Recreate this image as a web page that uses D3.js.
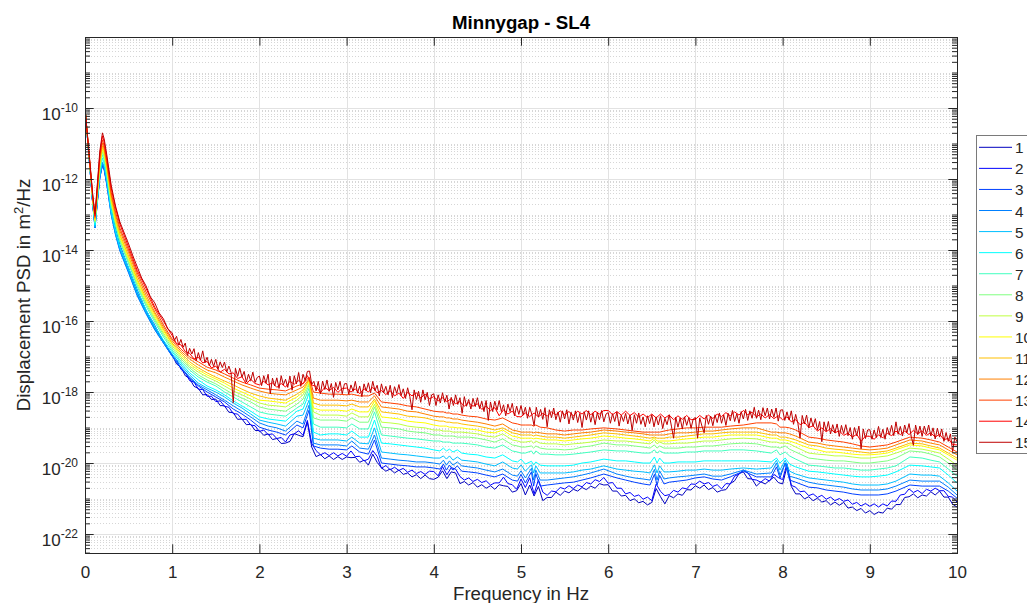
<!DOCTYPE html>
<html><head><meta charset="utf-8">
<script src="https://cdn.jsdelivr.net/npm/d3@7"></script>
<style>
body{margin:0;background:#fff;}
svg{display:block;font-family:"Liberation Sans",Arial,Helvetica,sans-serif;}
</style></head><body>
<svg id="chart" width="1027" height="603"></svg>
<script>
// ---------------- DATA ----------------
const chartTitle = "Minnygap - SL4";
const xLabel = "Frequency in Hz";
const yLabelMain = "Displacement PSD in m";
const yLabelSup = "2";
const yLabelTail = "/Hz";
const seriesNames = ["1","2","3","4","5","6","7","8","9","10","11","12","13","14","15"];
const seriesColors = ["#0000bf","#0000ff","#0040ff","#0080ff","#00bfff","#00ffff","#40ffbf","#80ff80","#bfff40","#ffff00","#ffbf00","#ff8000","#ff4000","#ff0000","#bf0000"];
const xLimits = [0, 10];
const yLimits = [2.92e-23, 1e-8];
const xTicks = [0,1,2,3,4,5,6,7,8,9,10];
const yTickExponents = [-22,-20,-18,-16,-14,-12,-10];

// frequency sampling (Hz)
const freqsLow = [0,0.03,0.06,0.09,0.115,0.14,0.17,0.2,0.22,0.25,0.3,0.35,0.4];
// shared by series 3-13
const freqs = freqsLow.concat([
0.5,0.6,0.7,0.8,0.9,1.0,1.1,1.2,1.3,1.4,1.5,1.6,1.7,1.8,1.9,2.0,
2.1,2.2,2.3,2.43,2.5,2.57,2.62,2.7,2.8,2.9,3.0,
3.06,3.15,3.25,3.32,3.4,3.5,3.6,3.7,3.8,3.9,4.0,
4.07,4.11,4.145,4.18,4.22,4.27,4.32,4.4,4.5,4.6,4.7,4.79,4.9,4.96,5.0,
5.05,5.12,5.145,5.17,5.22,5.3,5.4,5.5,5.6,5.7,5.8,5.95,6.1,
6.2,6.3,6.4,6.48,6.53,6.56,6.59,6.64,6.7,6.8,6.9,7.0,7.1,7.2,
7.3,7.4,7.55,7.7,7.87,7.93,7.97,8.03,8.08,8.15,8.3,
8.4,8.5,8.6,8.7,8.8,8.9,9.0,9.1,9.2,9.3,9.46,9.6,9.7,9.8,9.9,10.0]);
// series 1, 2, 14: 0.05 Hz sampling above 1 Hz
const freqsMed = freqsLow.concat([0.5,0.6,0.7,0.8,0.9], d3.range(181).map(k => +(1 + k * 0.05).toFixed(2)));
// series 15: 0.025 Hz sampling above 1 Hz
const freqs15 = freqsLow.concat([0.5,0.55,0.6,0.65,0.7,0.75,0.8,0.85,0.9,0.95], d3.range(361).map(k => +(1 + k * 0.025).toFixed(3)));

// log10 of displacement PSD (m^2/Hz), one array per series
const log10PSD_1 = [
-10.00,-10.90,-11.80,-12.73,-13.32,-12.65,-11.94,-11.61,-11.72,-12.11,-12.85,-13.44,-13.89,
-14.54,-15.20,-15.70,-16.19,-16.57,
-16.96,-17.21,-17.30,-17.54,-17.62,-17.84,-17.90,-18.08,-18.07,-18.21,-18.20,-18.38,-18.39,-18.57,-18.58,-18.77,-18.76,-18.92,-18.91,-19.08,
-19.09,-19.22,-19.18,-19.34,-19.31,-19.45,-19.44,-19.39,-19.17,-19.22,-19.26,-18.85,-19.55,-19.82,-19.76,-19.88,-19.80,-19.90,-19.82,-19.90,
-19.83,-19.85,-19.84,-19.98,-19.92,-20.06,-19.75,-19.98,-20.13,-20.23,-20.17,-20.28,-20.20,-20.32,-20.28,-20.39,-20.33,-20.44,-20.34,-20.44,
-20.46,-20.40,-20.22,-20.44,-20.25,-20.28,-20.58,-20.52,-20.62,-20.55,-20.68,-20.61,-20.71,-20.64,-20.74,-20.61,-20.64,-20.66,-20.82,-20.78,
-20.58,-20.90,-20.62,-20.93,-20.66,-21.06,-20.97,-20.97,-20.82,-20.91,-20.79,-20.84,-20.74,-20.79,-20.69,-20.75,-20.65,-20.71,-20.58,-20.62,
-20.61,-20.79,-20.79,-20.93,-20.91,-21.06,-21.01,-21.12,-21.08,-21.18,-21.11,-20.72,-20.95,-21.15,-20.92,-20.98,-20.87,-20.91,-20.75,-20.76,
-20.64,-20.71,-20.62,-20.75,-20.69,-20.82,-20.77,-20.75,-20.58,-20.50,-20.30,-20.25,-20.44,-20.45,-20.65,-20.53,-20.59,-20.49,-20.40,-20.55,
-20.59,-20.10,-20.66,-20.87,-20.87,-21.01,-20.95,-21.06,-20.99,-21.10,-21.06,-21.18,-21.10,-21.19,-21.11,-21.27,-21.24,-21.34,-21.28,-21.41,
-21.34,-21.45,-21.38,-21.41,-21.27,-21.30,-21.17,-21.17,-20.97,-20.95,-20.87,-20.98,-20.90,-20.93,-20.81,-20.90,-20.79,-20.96,-20.96,-21.16,
-21.24];
const log10PSD_2 = [
-10.00,-10.90,-11.80,-12.73,-13.32,-12.65,-11.92,-11.55,-11.69,-12.08,-12.82,-13.41,-13.86,
-14.51,-15.13,-15.70,-16.12,-16.58,
-16.99,-17.09,-17.36,-17.45,-17.68,-17.72,-17.92,-17.93,-18.12,-18.12,-18.27,-18.25,-18.40,-18.43,-18.61,-18.62,-18.77,-18.77,-18.93,-18.95,
-19.11,-19.07,-19.20,-19.18,-19.31,-19.28,-19.41,-19.21,-19.18,-19.09,-19.22,-18.80,-19.45,-19.65,-19.77,-19.71,-19.79,-19.71,-19.80,-19.73,
-19.81,-19.66,-19.82,-19.81,-19.94,-19.89,-19.65,-19.81,-20.15,-20.07,-20.19,-20.12,-20.21,-20.15,-20.26,-20.20,-20.30,-20.24,-20.32,-20.23,
-20.24,-20.36,-20.10,-20.33,-20.13,-20.17,-20.38,-20.48,-20.42,-20.52,-20.46,-20.55,-20.50,-20.62,-20.56,-20.56,-20.40,-20.58,-20.61,-20.74,
-20.45,-20.69,-20.42,-20.87,-20.47,-20.82,-20.91,-20.79,-20.81,-20.69,-20.73,-20.64,-20.72,-20.62,-20.67,-20.55,-20.59,-20.47,-20.52,-20.41,
-20.57,-20.55,-20.71,-20.71,-20.87,-20.83,-20.94,-20.90,-21.02,-20.96,-21.06,-20.59,-20.80,-20.92,-20.89,-20.77,-20.82,-20.70,-20.73,-20.59,
-20.60,-20.51,-20.59,-20.55,-20.66,-20.61,-20.73,-20.58,-20.59,-20.37,-20.31,-20.20,-20.27,-20.46,-20.48,-20.54,-20.44,-20.51,-20.32,-20.41,
-20.47,-20.02,-20.63,-20.68,-20.81,-20.79,-20.92,-20.87,-20.97,-20.91,-21.02,-20.96,-21.06,-21.00,-21.08,-21.04,-21.16,-21.11,-21.21,-21.14,
-21.22,-21.15,-21.24,-21.15,-21.21,-21.07,-21.08,-20.90,-20.88,-20.73,-20.83,-20.77,-20.86,-20.74,-20.79,-20.71,-20.78,-20.78,-20.94,-20.96,
-21.10];
const log10PSD_3 = [
-10.00,-10.90,-11.80,-12.76,-13.38,-12.70,-11.97,-11.61,-11.75,-12.17,-12.99,-13.55,-14.00,
-14.62,-15.27,-15.77,-16.23,-16.62,-16.99,-17.32,-17.61,-17.83,-18.00,-18.14,-18.28,-18.48,-18.62,-18.79,-18.99,
-19.07,-19.13,-19.21,-18.93,-19.01,-18.51,-19.52,-19.58,-19.61,-19.61,-19.63,
-19.52,-19.69,-19.75,-19.35,-20.00,-20.03,-20.06,-20.08,-20.11,-20.11,-20.14,
-20.17,-20.03,-20.20,-20.06,-20.20,-20.08,-20.23,-20.25,-20.28,-20.34,-20.39,-20.31,-20.48,-20.51,-20.32,
-20.56,-20.25,-20.65,-20.30,-20.65,-20.62,-20.59,-20.56,-20.54,-20.48,-20.42,-20.31,-20.42,
-20.48,-20.54,-20.59,-20.62,-20.32,-20.62,-20.35,-20.59,-20.54,-20.51,-20.48,-20.42,-20.39,-20.45,
-20.48,-20.39,-20.23,-20.39,-20.39,-20.11,-20.42,-20.00,-20.48,-20.54,-20.68,
-20.70,-20.76,-20.79,-20.82,-20.87,-20.90,-20.90,-20.90,-20.87,-20.79,-20.62,-20.65,-20.65,-20.65,-20.79,-20.99];
const log10PSD_4 = [
-10.00,-10.90,-11.80,-12.76,-13.38,-12.70,-11.97,-11.58,-11.72,-12.14,-13.01,-13.58,-14.03,
-14.65,-15.30,-15.80,-16.25,-16.62,-16.99,-17.30,-17.58,-17.80,-17.94,-18.08,-18.23,-18.39,-18.54,-18.70,-18.87,
-18.96,-19.01,-19.10,-18.82,-18.90,-18.37,-19.44,-19.49,-19.49,-19.49,-19.52,
-19.38,-19.58,-19.61,-19.21,-19.86,-19.89,-19.92,-19.94,-19.97,-19.97,-20.00,
-20.03,-19.92,-20.06,-19.94,-20.06,-19.97,-20.08,-20.11,-20.14,-20.20,-20.25,-20.17,-20.34,-20.37,-20.22,
-20.42,-20.15,-20.48,-20.20,-20.48,-20.48,-20.45,-20.42,-20.39,-20.34,-20.28,-20.17,-20.31,
-20.37,-20.42,-20.45,-20.48,-20.18,-20.48,-20.22,-20.45,-20.42,-20.39,-20.37,-20.34,-20.31,-20.37,
-20.37,-20.31,-20.20,-20.31,-20.28,-20.00,-20.34,-20.00,-20.37,-20.42,-20.54,
-20.59,-20.62,-20.65,-20.68,-20.73,-20.76,-20.76,-20.76,-20.73,-20.65,-20.48,-20.51,-20.51,-20.51,-20.68,-20.90];
const log10PSD_5 = [
-10.00,-10.90,-11.80,-12.73,-13.35,-12.68,-11.92,-11.52,-11.66,-12.08,-12.96,-13.52,-13.97,
-14.59,-15.24,-15.75,-16.20,-16.59,-16.93,-17.24,-17.52,-17.75,-17.89,-18.00,-18.14,-18.31,-18.45,-18.62,-18.79,
-18.85,-18.90,-18.96,-18.68,-18.65,-18.23,-19.30,-19.35,-19.35,-19.35,-19.38,
-19.27,-19.44,-19.46,-19.01,-19.69,-19.72,-19.75,-19.77,-19.80,-19.83,-19.86,
-19.86,-19.80,-19.89,-19.80,-19.92,-19.83,-19.92,-19.94,-19.97,-20.03,-20.08,-19.97,-20.14,-20.17,-20.05,
-20.23,-20.05,-20.28,-20.08,-20.28,-20.28,-20.28,-20.28,-20.25,-20.20,-20.17,-20.08,-20.17,
-20.20,-20.23,-20.25,-20.28,-20.05,-20.28,-20.08,-20.25,-20.25,-20.23,-20.20,-20.20,-20.17,-20.20,
-20.20,-20.17,-20.14,-20.17,-20.14,-19.92,-20.20,-19.92,-20.23,-20.31,-20.42,
-20.45,-20.48,-20.51,-20.54,-20.59,-20.62,-20.62,-20.62,-20.59,-20.51,-20.31,-20.34,-20.34,-20.37,-20.56,-20.79];
const log10PSD_6 = [
-10.00,-10.90,-11.77,-12.70,-13.30,-12.62,-11.83,-11.41,-11.55,-11.97,-12.87,-13.44,-13.89,
-14.51,-15.15,-15.69,-16.14,-16.54,-16.87,-17.18,-17.46,-17.66,-17.83,-17.94,-18.08,-18.25,-18.39,-18.54,-18.70,
-18.76,-18.79,-18.82,-18.54,-18.48,-18.03,-19.13,-19.21,-19.18,-19.18,-19.21,
-19.10,-19.27,-19.27,-18.79,-19.44,-19.46,-19.49,-19.52,-19.55,-19.58,-19.63,
-19.66,-19.58,-19.66,-19.61,-19.69,-19.63,-19.72,-19.75,-19.77,-19.83,-19.86,-19.77,-19.94,-19.97,-19.89,
-20.03,-19.95,-20.06,-19.97,-20.06,-20.08,-20.08,-20.08,-20.06,-20.00,-19.97,-19.89,-19.94,
-19.94,-19.97,-20.00,-20.00,-19.83,-20.00,-19.86,-20.00,-20.00,-19.97,-19.97,-19.97,-19.94,-19.94,
-19.94,-19.94,-19.94,-19.94,-19.97,-19.86,-20.00,-19.86,-20.03,-20.11,-20.23,
-20.25,-20.28,-20.31,-20.34,-20.37,-20.39,-20.39,-20.37,-20.34,-20.25,-20.06,-20.08,-20.11,-20.14,-20.34,-20.56];
const log10PSD_7 = [
-10.00,-10.87,-11.77,-12.68,-13.24,-12.56,-11.75,-11.32,-11.46,-11.89,-12.76,-13.32,-13.77,
-14.39,-15.04,-15.58,-16.03,-16.45,-16.82,-17.13,-17.38,-17.58,-17.72,-17.83,-18.00,-18.14,-18.28,-18.42,-18.56,
-18.62,-18.65,-18.68,-18.45,-18.34,-17.89,-18.90,-18.99,-18.99,-18.99,-19.01,
-18.90,-19.04,-19.04,-18.56,-19.21,-19.24,-19.27,-19.30,-19.32,-19.35,-19.38,
-19.38,-19.41,-19.41,-19.41,-19.44,-19.44,-19.44,-19.46,-19.49,-19.55,-19.58,-19.49,-19.66,-19.69,-19.72,
-19.72,-19.66,-19.75,-19.66,-19.75,-19.75,-19.77,-19.77,-19.75,-19.72,-19.69,-19.63,-19.66,
-19.66,-19.69,-19.72,-19.72,-19.63,-19.72,-19.66,-19.72,-19.72,-19.72,-19.69,-19.69,-19.66,-19.66,
-19.66,-19.63,-19.63,-19.66,-19.72,-19.63,-19.77,-19.69,-19.80,-19.89,-20.06,
-20.08,-20.11,-20.14,-20.14,-20.17,-20.20,-20.20,-20.17,-20.14,-20.08,-19.83,-19.86,-19.92,-19.97,-20.17,-20.37];
const log10PSD_8 = [
-10.00,-10.87,-11.75,-12.65,-13.21,-12.54,-11.69,-11.24,-11.38,-11.80,-12.70,-13.27,-13.72,
-14.34,-14.99,-15.52,-15.97,-16.39,-16.76,-17.07,-17.32,-17.52,-17.66,-17.77,-17.92,-18.06,-18.17,-18.28,-18.42,
-18.48,-18.51,-18.54,-18.34,-18.20,-17.80,-18.73,-18.79,-18.79,-18.79,-18.82,
-18.73,-18.85,-18.85,-18.42,-18.99,-19.01,-19.04,-19.10,-19.13,-19.15,-19.21,
-19.21,-19.24,-19.24,-19.24,-19.24,-19.27,-19.27,-19.27,-19.30,-19.35,-19.41,-19.32,-19.49,-19.52,-19.55,
-19.55,-19.52,-19.58,-19.52,-19.58,-19.61,-19.61,-19.63,-19.61,-19.55,-19.52,-19.44,-19.49,
-19.49,-19.52,-19.55,-19.58,-19.49,-19.58,-19.52,-19.58,-19.58,-19.58,-19.55,-19.55,-19.52,-19.52,
-19.49,-19.46,-19.44,-19.46,-19.55,-19.55,-19.58,-19.52,-19.61,-19.69,-19.86,
-19.89,-19.92,-19.94,-19.94,-19.97,-20.00,-20.00,-19.97,-19.94,-19.86,-19.66,-19.69,-19.75,-19.83,-20.00,-20.20];
const log10PSD_9 = [
-10.00,-10.87,-11.75,-12.62,-13.18,-12.48,-11.63,-11.18,-11.32,-11.75,-12.65,-13.21,-13.66,
-14.28,-14.93,-15.46,-15.92,-16.34,-16.70,-17.01,-17.27,-17.44,-17.58,-17.69,-17.83,-17.97,-18.08,-18.20,-18.31,
-18.37,-18.39,-18.42,-18.23,-18.08,-17.75,-18.56,-18.65,-18.65,-18.65,-18.68,
-18.59,-18.70,-18.70,-18.34,-18.85,-18.87,-18.90,-18.96,-18.99,-19.01,-19.07,
-19.07,-19.10,-19.10,-19.10,-19.13,-19.13,-19.13,-19.15,-19.18,-19.24,-19.27,-19.18,-19.35,-19.38,-19.41,
-19.41,-19.38,-19.44,-19.38,-19.44,-19.46,-19.46,-19.49,-19.46,-19.44,-19.41,-19.35,-19.38,
-19.38,-19.41,-19.44,-19.46,-19.35,-19.46,-19.41,-19.46,-19.46,-19.44,-19.44,-19.41,-19.38,-19.38,
-19.35,-19.32,-19.30,-19.32,-19.41,-19.41,-19.44,-19.44,-19.46,-19.55,-19.72,
-19.75,-19.77,-19.80,-19.80,-19.83,-19.86,-19.86,-19.83,-19.80,-19.72,-19.58,-19.61,-19.66,-19.72,-19.89,-20.06];
const log10PSD_10 = [
-10.00,-10.85,-11.72,-12.59,-13.16,-12.45,-11.58,-11.13,-11.27,-11.69,-12.59,-13.16,-13.61,
-14.23,-14.87,-15.41,-15.86,-16.28,-16.65,-16.96,-17.21,-17.38,-17.52,-17.63,-17.75,-17.89,-18.00,-18.11,-18.23,
-18.25,-18.28,-18.31,-18.14,-18.00,-17.69,-18.45,-18.51,-18.51,-18.51,-18.54,
-18.48,-18.56,-18.56,-18.25,-18.70,-18.73,-18.76,-18.82,-18.85,-18.87,-18.93,
-18.96,-18.96,-18.96,-18.99,-18.99,-19.01,-19.01,-19.04,-19.07,-19.13,-19.15,-19.07,-19.24,-19.27,-19.30,
-19.30,-19.30,-19.32,-19.30,-19.32,-19.35,-19.35,-19.38,-19.35,-19.32,-19.30,-19.24,-19.27,
-19.30,-19.32,-19.35,-19.38,-19.30,-19.38,-19.38,-19.38,-19.38,-19.35,-19.32,-19.30,-19.27,-19.27,
-19.24,-19.21,-19.21,-19.21,-19.30,-19.30,-19.35,-19.35,-19.38,-19.44,-19.58,
-19.63,-19.69,-19.69,-19.72,-19.75,-19.77,-19.77,-19.75,-19.72,-19.63,-19.49,-19.52,-19.58,-19.63,-19.77,-19.92];
const log10PSD_11 = [
-10.00,-10.85,-11.72,-12.59,-13.13,-12.39,-11.52,-11.07,-11.21,-11.63,-12.54,-13.10,-13.55,
-14.17,-14.82,-15.35,-15.80,-16.23,-16.62,-16.90,-17.15,-17.32,-17.46,-17.58,-17.69,-17.80,-17.92,-18.03,-18.11,
-18.17,-18.20,-18.23,-18.06,-17.94,-17.66,-18.31,-18.37,-18.37,-18.37,-18.39,
-18.34,-18.42,-18.42,-18.20,-18.56,-18.59,-18.62,-18.68,-18.70,-18.73,-18.79,
-18.82,-18.82,-18.85,-18.85,-18.87,-18.87,-18.90,-18.93,-18.96,-19.01,-19.07,-19.01,-19.15,-19.18,-19.21,
-19.21,-19.21,-19.24,-19.21,-19.24,-19.27,-19.27,-19.30,-19.27,-19.24,-19.21,-19.15,-19.18,
-19.21,-19.24,-19.27,-19.30,-19.27,-19.30,-19.30,-19.30,-19.27,-19.27,-19.24,-19.21,-19.18,-19.18,
-19.15,-19.13,-19.13,-19.13,-19.21,-19.21,-19.27,-19.27,-19.30,-19.35,-19.49,
-19.52,-19.58,-19.61,-19.63,-19.66,-19.69,-19.72,-19.69,-19.66,-19.58,-19.44,-19.46,-19.52,-19.58,-19.72,-19.86];
const log10PSD_12 = [
-10.00,-10.85,-11.69,-12.56,-13.10,-12.37,-11.46,-10.99,-11.15,-11.58,-12.45,-13.01,-13.46,
-14.08,-14.73,-15.27,-15.75,-16.17,-16.56,-16.85,-17.07,-17.24,-17.38,-17.46,-17.58,-17.69,-17.80,-17.89,-17.97,
-18.03,-18.06,-18.08,-17.94,-17.86,-17.63,-18.17,-18.23,-18.23,-18.23,-18.25,
-18.23,-18.28,-18.28,-18.11,-18.42,-18.45,-18.48,-18.54,-18.56,-18.62,-18.68,
-18.70,-18.70,-18.73,-18.73,-18.76,-18.76,-18.79,-18.82,-18.85,-18.90,-18.96,-18.90,-19.07,-19.10,-19.13,
-19.13,-19.13,-19.15,-19.13,-19.15,-19.18,-19.18,-19.21,-19.18,-19.15,-19.13,-19.07,-19.10,
-19.13,-19.15,-19.18,-19.21,-19.21,-19.21,-19.21,-19.21,-19.18,-19.15,-19.15,-19.13,-19.10,-19.10,
-19.07,-19.04,-19.01,-19.01,-19.13,-19.13,-19.15,-19.15,-19.18,-19.24,-19.41,
-19.44,-19.49,-19.52,-19.55,-19.58,-19.61,-19.63,-19.61,-19.58,-19.49,-19.35,-19.38,-19.44,-19.49,-19.63,-19.77];
const log10PSD_13 = [
-10.00,-10.85,-11.69,-12.54,-13.07,-12.31,-11.38,-10.90,-11.07,-11.49,-12.37,-12.93,-13.38,
-14.00,-14.65,-15.18,-15.66,-16.11,-16.51,-16.79,-17.01,-17.15,-17.30,-17.38,-17.49,-17.61,-17.72,-17.80,-17.89,
-17.92,-17.94,-17.97,-17.83,-17.77,-17.58,-18.00,-18.03,-18.06,-18.06,-18.08,
-18.06,-18.11,-18.11,-18.03,-18.28,-18.31,-18.34,-18.39,-18.42,-18.48,-18.54,
-18.56,-18.56,-18.59,-18.59,-18.62,-18.62,-18.65,-18.68,-18.70,-18.76,-18.79,-18.73,-18.87,-18.90,-18.93,
-18.93,-18.93,-18.96,-18.93,-18.99,-19.01,-19.07,-19.10,-19.07,-19.07,-19.04,-19.01,-19.04,
-19.07,-19.10,-19.13,-19.13,-19.13,-19.13,-19.13,-19.10,-19.07,-19.04,-19.01,-19.01,-18.99,-18.99,
-18.99,-18.96,-18.93,-18.87,-18.87,-18.90,-18.99,-18.99,-19.01,-19.07,-19.27,
-19.30,-19.35,-19.38,-19.41,-19.46,-19.52,-19.55,-19.52,-19.49,-19.41,-19.27,-19.30,-19.35,-19.41,-19.55,-19.69];
const log10PSD_14 = [
-10.00,-10.82,-11.66,-12.51,-13.04,-12.25,-11.30,-10.79,-10.96,-11.41,-12.25,-12.82,-13.27,
-13.92,-14.58,-15.08,-15.61,-16.01,
-16.41,-16.64,-16.67,-16.86,-16.91,-17.07,-17.02,-17.18,-17.14,-17.32,-17.27,-17.44,-17.36,-17.49,-17.46,-17.62,-17.57,-17.77,-17.64,-17.76,
-17.80,-17.70,-17.80,-17.74,-17.87,-17.76,-17.86,-17.70,-17.78,-17.67,-17.77,-17.54,-17.80,-17.84,-18.02,-17.87,-17.96,-17.87,-18.01,-17.90,
-17.89,-18.00,-17.91,-18.05,-17.91,-18.00,-17.87,-18.02,-17.96,-18.07,-17.96,-18.11,-18.03,-18.18,-18.01,-18.11,-18.02,-18.17,-18.06,-18.19,
-18.13,-18.25,-18.16,-18.27,-18.19,-18.33,-18.27,-18.40,-18.30,-18.40,-18.33,-18.49,-18.40,-18.52,-18.44,-18.67,-18.50,-18.62,-18.54,-18.69,
-18.70,-18.59,-18.69,-18.59,-18.70,-18.60,-18.68,-18.56,-18.64,-18.53,-18.64,-18.55,-18.67,-18.54,-18.62,-18.52,-18.64,-18.54,-18.62,-18.52,
-18.52,-18.64,-18.55,-18.65,-18.54,-18.66,-18.58,-18.71,-18.62,-18.72,-18.62,-18.73,-18.62,-18.73,-18.65,-18.78,-18.67,-18.77,-18.66,-18.78,
-18.77,-18.66,-18.76,-18.65,-18.75,-18.62,-18.69,-18.58,-18.67,-18.56,-18.65,-18.52,-18.64,-18.57,-18.70,-18.62,-18.73,-18.64,-18.75,-18.67,
-18.78,-18.70,-18.84,-18.78,-18.92,-18.85,-19.00,-18.95,-19.10,-19.01,-19.12,-19.03,-19.15,-19.09,-19.22,-19.16,-19.27,-19.19,-19.39,-19.24,
-19.25,-19.33,-19.21,-19.29,-19.16,-19.23,-19.10,-19.20,-19.10,-19.20,-19.08,-19.18,-19.09,-19.22,-19.15,-19.27,-19.19,-19.34,-19.31,-19.48,
-19.49];
const log10PSD_15 = [
-10.00,-10.82,-11.63,-12.48,-12.99,-12.20,-11.21,-10.70,-10.87,-11.32,-12.17,-12.76,-13.21,
-13.83,-14.17,-14.48,-14.79,-15.01,-15.32,-15.49,-15.77,-15.94,-16.23,
-16.33,-16.55,-16.43,-16.68,-16.52,-16.74,-16.62,-16.97,-16.77,-16.93,-16.78,-17.12,-16.89,-17.10,-16.84,-17.17,-17.02,-17.26,-17.08,-17.28,
-17.08,-17.36,-17.15,-17.31,-17.16,-17.44,-17.27,-17.45,-18.30,-17.33,-17.56,-17.33,-17.58,-17.42,-17.72,-17.50,-17.68,-17.44,-17.73,-17.59,
-17.55,-17.82,-17.54,-17.75,-17.50,-18.05,-17.61,-17.83,-17.60,-17.90,-17.54,-17.80,-17.64,-17.87,-17.55,-17.95,-17.54,-17.77,-17.45,-17.84,
-17.50,-17.68,-17.42,-17.41,-17.78,-17.70,-17.97,-17.70,-18.05,-17.69,-17.93,-17.66,-17.98,-17.76,-18.15,-17.73,-17.94,-17.70,-18.05,-17.77,
-17.76,-18.06,-17.80,-17.98,-17.70,-18.03,-17.83,-18.13,-17.77,-17.97,-17.74,-18.02,-17.70,-17.96,-17.81,-18.11,-17.77,-18.02,-17.84,-18.08,
-17.81,-18.16,-17.85,-18.04,-17.79,-18.10,-17.91,-18.18,-17.88,-18.13,-18.50,-17.94,-18.21,-17.98,-18.29,-17.94,-18.22,-18.01,-18.38,-18.08,
-18.05,-18.38,-18.08,-18.31,-18.02,-18.29,-18.09,-18.48,-18.15,-18.38,-18.08,-18.35,-18.16,-18.60,-18.13,-18.40,-18.21,-18.48,-18.18,-18.41,
-18.16,-18.47,-18.26,-18.55,-18.24,-18.80,-18.28,-18.55,-18.26,-18.51,-18.24,-18.55,-18.36,-18.67,-18.34,-18.55,-18.32,-18.67,-18.40,-18.63,
-18.38,-18.65,-18.43,-18.74,-18.43,-18.64,-18.95,-18.43,-18.70,-18.49,-18.77,-18.44,-18.98,-18.50,-18.72,-18.45,-18.78,-18.56,-18.85,-18.53,
-18.76,-18.50,-18.90,-18.57,-18.79,-18.53,-18.86,-18.60,-19.00,-18.56,-18.79,-18.53,-18.85,-18.59,-18.92,-18.58,-18.78,-18.52,-18.84,-18.62,
-18.58,-18.88,-18.61,-18.83,-18.56,-18.96,-18.65,-18.83,-18.60,-18.90,-18.65,-19.08,-18.64,-18.88,-18.59,-18.91,-18.70,-18.98,-18.67,-18.89,
-18.64,-18.98,-18.70,-18.93,-18.67,-19.03,-18.74,-18.92,-18.64,-18.96,-19.30,-18.71,-18.99,-18.73,-19.04,-18.70,-18.94,-18.72,-19.02,-18.76,
-18.72,-19.30,-18.73,-18.96,-19.15,-18.66,-18.91,-18.68,-18.95,-18.64,-18.86,-18.59,-18.88,-18.65,-18.94,-18.60,-18.81,-18.52,-18.83,-18.61,
-18.88,-18.55,-18.76,-18.49,-18.80,-18.53,-18.74,-18.43,-18.74,-18.51,-18.78,-18.44,-18.67,-18.45,-18.76,-18.48,-18.71,-18.45,-18.82,-18.51,
-18.50,-18.80,-18.56,-18.79,-18.53,-18.91,-18.63,-18.88,-19.30,-18.66,-18.90,-18.65,-19.01,-18.73,-18.97,-18.75,-19.07,-18.83,-19.40,-18.84,
-19.10,-18.83,-19.18,-18.92,-19.15,-18.90,-19.25,-18.94,-19.17,-18.92,-19.23,-19.00,-19.33,-19.00,-19.23,-18.96,-19.60,-19.04,-19.31,-19.07,
-19.06,-19.33,-19.07,-19.28,-18.97,-19.28,-19.05,-19.33,-19.00,-19.21,-18.94,-19.23,-18.84,-19.19,-18.97,-19.24,-18.93,-19.15,-18.89,-19.25,
-19.50,-18.93,-19.20,-18.96,-19.25,-18.96,-19.18,-18.93,-19.24,-19.01,-19.32,-19.02,-19.27,-19.04,-19.39,-19.14,-19.39,-19.18,-19.68,-19.27,
-19.40];

// ---------------- CHART ----------------
const W = 1027, H = 603;
const plot = {left: 85, right: 957, top: 37, bottom: 553};
const axisColor = "#262626";

const seriesData = [log10PSD_1,log10PSD_2,log10PSD_3,log10PSD_4,log10PSD_5,log10PSD_6,log10PSD_7,
  log10PSD_8,log10PSD_9,log10PSD_10,log10PSD_11,log10PSD_12,log10PSD_13,log10PSD_14,log10PSD_15];
const seriesFreqs = [freqsMed, freqsMed, freqs, freqs, freqs, freqs, freqs, freqs, freqs, freqs, freqs, freqs, freqs, freqsMed, freqs15];

const series = seriesData.map((vals, i) => {
  const fr = seriesFreqs[i];
  if (fr.length !== vals.length) console.error("length mismatch series " + (i+1), fr.length, vals.length);
  const n = Math.min(fr.length, vals.length);
  return {name: seriesNames[i], color: seriesColors[i],
          points: d3.range(n).map(k => ({f: fr[k], v: Math.pow(10, vals[k])}))};
});

const svg = d3.select("#chart");
svg.append("rect").attr("width", W).attr("height", H).attr("fill", "#fff");

const x = d3.scaleLinear().domain(xLimits).range([plot.left, plot.right]);
const y = d3.scaleLog().domain(yLimits).range([plot.bottom, plot.top]);

const majorY = yTickExponents.map(e => Math.pow(10, e));
const minorY = [];
for (let e = -23; e <= -9; e++) {
  for (let k = 1; k <= 9; k++) {
    const v = k * Math.pow(10, e);
    if (v <= yLimits[0] * 1.0001 || v >= yLimits[1] * 0.9999) continue;
    if (k === 1 && yTickExponents.includes(e)) continue;
    minorY.push(v);
  }
}
const crisp = v => Math.round(v) + 0.5;

// grid
const grid = svg.append("g");
grid.selectAll("line.minor").data(minorY).enter().append("line")
  .attr("x1", plot.left).attr("x2", plot.right)
  .attr("y1", d => crisp(y(d))).attr("y2", d => crisp(y(d)))
  .attr("stroke", "#d6d6d6").attr("stroke-width", 1).attr("stroke-dasharray", "1,2");
grid.selectAll("line.majy").data(majorY).enter().append("line")
  .attr("x1", plot.left).attr("x2", plot.right)
  .attr("y1", d => crisp(y(d))).attr("y2", d => crisp(y(d)))
  .attr("stroke", "#e2e2e2").attr("stroke-width", 1);
grid.selectAll("line.majx").data(xTicks.slice(1, -1)).enter().append("line")
  .attr("y1", plot.top).attr("y2", plot.bottom)
  .attr("x1", d => crisp(x(d))).attr("x2", d => crisp(x(d)))
  .attr("stroke", "#e2e2e2").attr("stroke-width", 1);

// curves
svg.append("clipPath").attr("id", "clip").append("rect")
  .attr("x", plot.left).attr("y", plot.top)
  .attr("width", plot.right - plot.left).attr("height", plot.bottom - plot.top);
const line = d3.line().x(d => x(d.f)).y(d => y(d.v));
svg.append("g").attr("clip-path", "url(#clip)")
  .selectAll("path").data(series).enter().append("path")
  .attr("d", d => line(d.points))
  .attr("fill", "none").attr("stroke", d => d.color)
  .attr("stroke-width", 1).attr("stroke-linejoin", "round");

// axes (ticks inward, box on)
const tickLen = 8.7, minorLen = 5;
const fontAxes = 17;
const xAxisB = d3.axisBottom(x).tickValues(xTicks).tickSize(-tickLen).tickPadding(13)
  .tickFormat(d3.format("d"));
const gxb = svg.append("g").attr("transform", `translate(0,${plot.bottom})`).call(xAxisB);
const xAxisT = d3.axisTop(x).tickValues(xTicks).tickSize(-tickLen).tickFormat(() => "");
const gxt = svg.append("g").attr("transform", `translate(0,${plot.top})`).call(xAxisT);
const yAxisL = d3.axisLeft(y).tickValues(majorY).tickSize(-tickLen).tickFormat(() => "");
const gyl = svg.append("g").attr("transform", `translate(${plot.left},0)`).call(yAxisL);
const yAxisLm = d3.axisLeft(y).tickValues(minorY).tickSize(-minorLen).tickFormat(() => "");
const gylm = svg.append("g").attr("transform", `translate(${plot.left},0)`).call(yAxisLm);
const yAxisR = d3.axisRight(y).tickValues(majorY).tickSize(-tickLen).tickFormat(() => "");
const gyr = svg.append("g").attr("transform", `translate(${plot.right},0)`).call(yAxisR);
const yAxisRm = d3.axisRight(y).tickValues(minorY).tickSize(-minorLen).tickFormat(() => "");
const gyrm = svg.append("g").attr("transform", `translate(${plot.right},0)`).call(yAxisRm);

[gxb, gxt, gyl, gylm, gyr, gyrm].forEach(g => {
  g.select(".domain").remove();
  g.selectAll(".tick line").attr("stroke", axisColor).attr("stroke-width", 1);
});
gxb.selectAll(".tick text").attr("fill", axisColor).attr("font-size", fontAxes)
  .attr("font-family", "Liberation Sans, Arial, sans-serif");

// y tick labels with superscripts
gyl.selectAll(".tick").each(function(d) {
  const e = Math.round(Math.log10(d));
  const t = d3.select(this).append("text")
    .attr("x", -7).attr("y", 11).attr("text-anchor", "end")
    .attr("fill", axisColor).attr("font-size", fontAxes)
    .attr("font-family", "Liberation Sans, Arial, sans-serif");
  t.append("tspan").text("10");
  t.append("tspan").attr("dy", -7.5).attr("font-size", 12).text(String(e));
});

// box
svg.append("rect").attr("x", plot.left + 0.5).attr("y", plot.top + 0.5)
  .attr("width", plot.right - plot.left).attr("height", plot.bottom - plot.top)
  .attr("fill", "none").attr("stroke", axisColor).attr("stroke-width", 1);

// title & labels
svg.append("text").attr("x", (plot.left + plot.right) / 2).attr("y", 29)
  .attr("text-anchor", "middle").attr("font-weight", "bold").attr("font-size", 18.7)
  .attr("fill", "#000").text(chartTitle);
svg.append("text").attr("x", (plot.left + plot.right) / 2).attr("y", 600)
  .attr("text-anchor", "middle").attr("font-size", 18.7).attr("fill", axisColor).text(xLabel);
const yl = svg.append("text").attr("transform", `translate(30,${(plot.top + plot.bottom) / 2}) rotate(-90)`)
  .attr("text-anchor", "middle").attr("font-size", 18.7).attr("fill", axisColor);
yl.append("tspan").text(yLabelMain);
yl.append("tspan").attr("dy", -7).attr("font-size", 13).text(yLabelSup);
yl.append("tspan").attr("dy", 7).text(yLabelTail);

// legend
const legend = {x: 976, y: 135, w: 70, h: 318, first: 147.3, step: 21.07};
svg.append("rect").attr("x", legend.x + 0.5).attr("y", legend.y + 0.5)
  .attr("width", legend.w).attr("height", legend.h)
  .attr("fill", "#fff").attr("stroke", "#7a7a7a").attr("stroke-width", 1);
const li = svg.append("g").selectAll("g").data(series).enter().append("g")
  .attr("transform", (d, i) => `translate(0,${legend.first + i * legend.step})`);
li.append("line").attr("x1", 979).attr("x2", 1012).attr("y1", 0).attr("y2", 0)
  .attr("stroke", d => d.color).attr("stroke-width", 1);
li.append("text").attr("x", 1015).attr("y", 6).attr("font-size", 15.3)
  .attr("fill", axisColor).text(d => d.name);
</script>
</body></html>
